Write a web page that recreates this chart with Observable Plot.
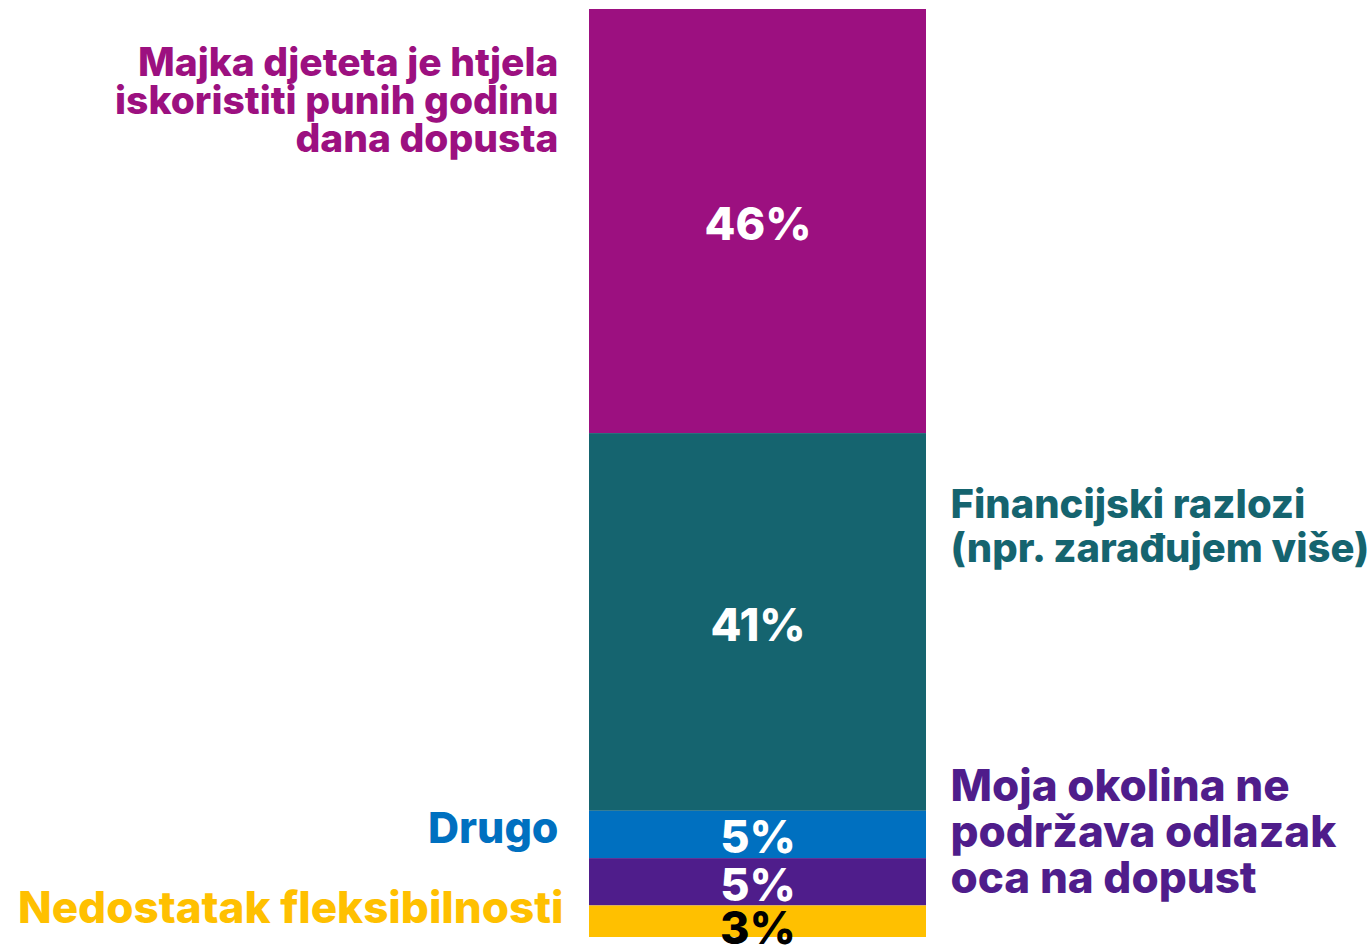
<!DOCTYPE html>
<html><head><meta charset="utf-8">
<script src="https://cdn.jsdelivr.net/npm/d3@7"></script>
<script src="https://cdn.jsdelivr.net/npm/@observablehq/plot@0.6"></script>
<style>
html,body{margin:0;padding:0;background:#fff;}
#chart svg{display:block;}
</style>
</head><body><div id="chart"></div>
<script>
// Data (top to bottom of the stacked bar)
const categories = [
  "Majka djeteta je htjela\niskoristiti punih godinu\ndana dopusta",
  "Financijski razlozi\n(npr. zarađujem više)",
  "Drugo",
  "Moja okolina ne\npodržava odlazak\noca na dopust",
  "Nedostatak fleksibilnosti"
];
const values = [45.7, 40.7, 5.1, 5.1, 3.4];
const pctLabels = ["46%", "41%", "5%", "5%", "3%"];
const colors = ["#9C1080", "#15646F", "#0070C0", "#4F1D8B", "#FFC000"];

const data = categories.map((c, i) => ({
  cat: c, value: values[i], pct: pctLabels[i], idx: i,
  mid: values.slice(0, i).reduce((a, b) => a + b, 0) + values[i] / 2
}));

// label layout: side, gap to bar (px), vertical offset (px) from segment midpoint, font size, line height
const labelLayout = [
  {side: "left", gap: 31, dy: -120, size: 39, lh: 0.98},
  {side: "right", gap: 24, dy: -97, size: 40, lh: 1.1},
  {side: "left", gap: 31, dy: -6, size: 43, lh: 1},
  {side: "right", gap: 24, dy: -50, size: 44, lh: 1.045},
  {side: "left", gap: 26, dy: -13, size: 44, lh: 1}
];

const FONT = "Inter, 'Open Sans', sans-serif";
const halfBar = (926 - 589) / 2;

const marks = [
  Plot.barY(data, {x: () => "all", y: "value", fill: "cat", order: null}),
  Plot.text(data.slice(0, 4), {
    x: () => "all", y: "mid", text: "pct",
    fill: "#fff", fontSize: 45, fontWeight: 800, fontFamily: FONT, dy: 4
  }),
  Plot.text(data.slice(4), {
    x: () => "all", y: "mid", text: "pct",
    fill: "#000", fontSize: 45, fontWeight: 800, fontFamily: FONT, dy: 8
  })
];
data.forEach((d, i) => {
  const L = labelLayout[i];
  marks.push(Plot.text([d], {
    x: () => "all", y: "mid", text: "cat",
    fill: colors[i],
    fontSize: L.size, fontWeight: 800, fontFamily: FONT,
    lineHeight: L.lh,
    textAnchor: L.side === "left" ? "end" : "start",
    lineAnchor: "middle",
    dx: L.side === "left" ? -(halfBar + L.gap) : (halfBar + L.gap),
    dy: L.dy
  }));
});

const chart = Plot.plot({
  width: 1370, height: 948,
  marginLeft: 589, marginRight: 444, marginTop: 9, marginBottom: 11,
  x: {type: "band", domain: ["all"], padding: 0, axis: null},
  y: {domain: [0, 100], reverse: true, axis: null},
  color: {domain: categories, range: colors},
  style: {background: "transparent", overflow: "visible"},
  marks
});
document.getElementById("chart").appendChild(chart);
</script>
</body></html>
